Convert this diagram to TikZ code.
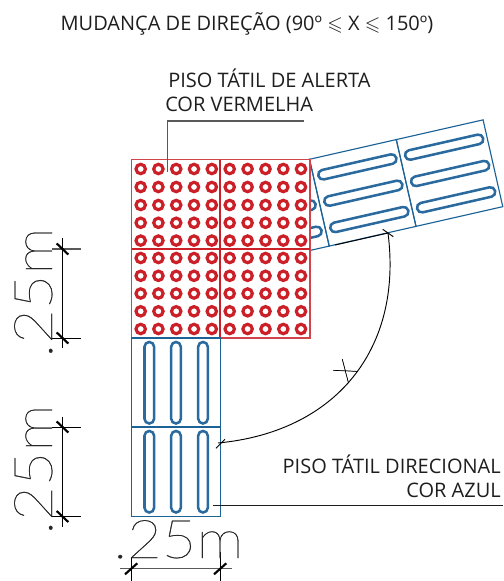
\documentclass[tikz,border=0pt]{standalone}
\usepackage{amssymb}
\usepackage{fontspec}
\setmainfont{Open Sans}
\newfontfamily\dimfont[FakeBold=0.5,FakeStretch=1.12]{Lato Hairline}
\newfontfamily\xfont[FakeBold=1.2]{Lato Hairline}
\definecolor{tred}{HTML}{CC2029}
\definecolor{tredl}{HTML}{D2444C}
\definecolor{tblue}{HTML}{1B6296}
\definecolor{tslot}{HTML}{2A6A9E}
\definecolor{ink}{HTML}{1E1E1E}
\tikzset{
  x=0.75pt,y=-0.75pt,
  label text/.style={text=ink,font=\fontsize{15pt}{17pt}\selectfont,inner sep=0pt},
  tile/.style={draw=tblue,line width=0.85pt},
  slotline/.style={draw=tslot,line width=1.9pt,rounded corners=3.55pt},
  redtile/.style={draw=tredl,line width=1.1pt},
  dot/.style={draw=tred,line width=2.4pt},
  thinline/.style={draw=black,line width=0.7pt},
  leader/.style={draw=ink,line width=0.75pt},
  greyleader/.style={draw=black!65,line width=0.9pt},
  tick/.style={draw=black,line width=1.6pt},
  dim text/.style={text=black!85,font=\dimfont\fontsize{40pt}{40pt}\selectfont,inner sep=0pt},
  x text/.style={text=black,font=\xfont\fontsize{21pt}{21pt}\selectfont,inner sep=0pt},
}
\newcommand{\vslots}[2]{%
  \foreach \c in {149.3,176,203}{\draw[slotline] (\c-4.8,#1) rectangle (\c+4.8,#2);}}
\newcommand{\uslots}[2]{%
  \foreach \c in {18,45,72}{\draw[slotline] (#1,\c-4.8) rectangle (#2,\c+4.8);}}
\begin{document}
\begin{tikzpicture}
\useasboundingbox (0,0) rectangle (503,581);
% rotated tiles
\begin{scope}[shift={(309.5,159.3)},rotate=12.8]
  \draw[tile] (-89,0) rectangle (0,89);
  \draw[tile] (0,0) rectangle (89,89);
  \draw[tile] (89,0) rectangle (178,89);
  \uslots{-85}{-4}
  \uslots{5}{85}
  \uslots{94}{174}
\end{scope}
% red tiles
\fill[white] (131,159) rectangle (310,338);
\foreach \x in {140.7,158.4,176.2,194,211.8,229.7,247.6,265.5,283.3,301}{
  \foreach \y in {169,187,205,222.8,240.6,258,275.8,293.5,311.3,329}{
    \draw[dot] (\x,\y) circle (4.7);
}}
\draw[redtile] (131.5,159.5) rectangle (310,338);
\draw[draw=tred,line width=1.5pt] (131.5,249) -- (310,249);
\draw[draw=tred,line width=1pt] (220,159.5) -- (220,338);
% blue tiles
\draw[tile] (131.5,338) rectangle (220.5,427);
\draw[tile] (131.5,427) rectangle (220.5,516.5);
\vslots{342}{423.5}
\vslots{431}{512.5}
% coordinates
\coordinate (a1) at (388,233);
\coordinate (a2) at (218,443);
\coordinate (e1) at (335,245);
\coordinate (l1a) at (303.7,121);
\coordinate (l1b) at (167.7,121);
\coordinate (l1c) at (167.7,172);
\coordinate (l2a) at (503,505);
\coordinate (l2b) at (213,505);
% arc
\draw[thinline] (a1) .. controls (403,350) and (335,432) .. (a2);
\draw[thinline] (e1) -- (a1);
\draw[thinline] (382.7,229.3) -- (393.3,236.7);
\draw[thinline] (216,448.3) -- (225,439.3);
% leaders
\draw[greyleader] (l1a) -- (l1b) -- (l1c);
\draw[leader] (l2a) -- (l2b);
% dimensions
\draw[thinline] (62.3,238) -- (62.3,348);
\draw[greyleader] (52,249) -- (81,249);
\draw[thinline] (52,338) -- (81,338);
\draw[tick] (56.7,243.5) -- (68.3,254.5);
\draw[tick] (56.7,332.5) -- (68.3,343.5);
\draw[thinline] (62.3,416.7) -- (62.3,526.7);
\draw[thinline] (52,427) -- (81,427);
\draw[thinline] (52,516.7) -- (81,516.7);
\draw[tick] (56.7,421.5) -- (68.3,432.5);
\draw[tick] (56.7,511) -- (68.3,522);
\draw[greyleader] (120,568.7) -- (231.7,568.7);
\draw[thinline] (131.5,558) -- (131.5,581);
\draw[thinline] (220,551.7) -- (220,581);
\draw[tick] (125,574.3) -- (137.3,563.3);
\draw[tick] (214,574.3) -- (226.3,563.3);
% texts
\node[label text,anchor=base] (title) at (247,31) {MUDANÇA DE DIREÇÃO (90º $\leqslant$ X $\leqslant$ 150º)};
\node[label text,anchor=base west] (t1) at (168,88) {PISO TÁTIL DE ALERTA};
\node[label text,anchor=base west] (t2) at (165,112) {COR VERMELHA};
\node[label text,anchor=base east] (t3) at (501,473) {PISO TÁTIL DIRECIONAL};
\node[label text,anchor=base east] (t4) at (501,497) {COR AZUL};
\node[x text,rotate=51] (xl) at (345.5,371) {X};
\node[dim text,anchor=base west,rotate=90] (d1) at (52,358) {.25m};
\node[dim text,anchor=base west,rotate=90] (d2) at (52,535) {.25m};
\node[dim text,anchor=base west] (d3) at (113,558) {.25m};
\end{tikzpicture}
\end{document}
